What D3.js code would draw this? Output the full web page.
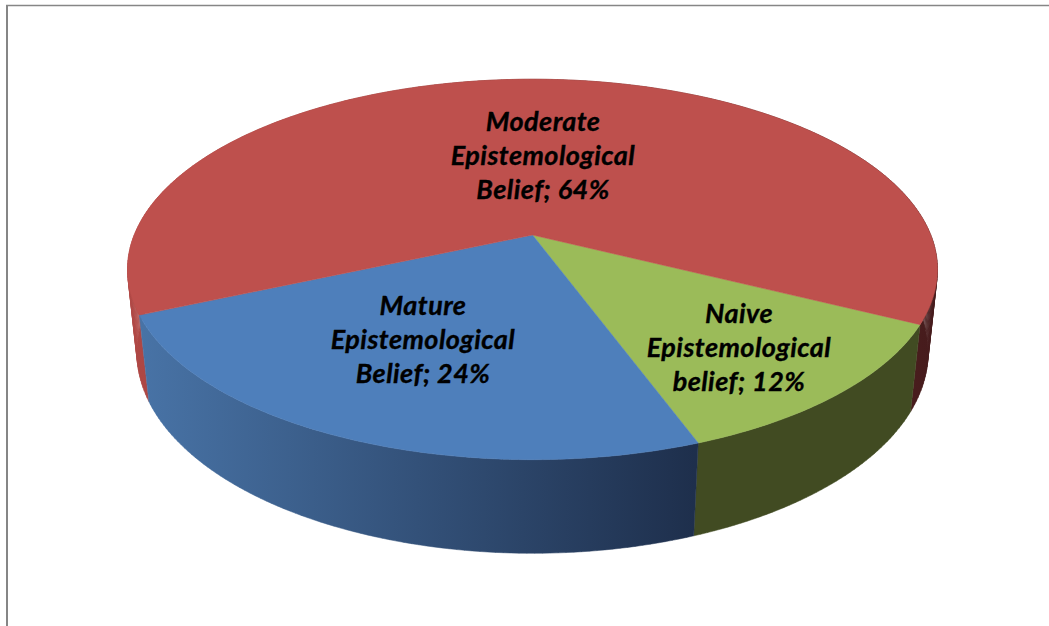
<!DOCTYPE html>
<html>
<head>
<meta charset="utf-8">
<script src="https://cdn.jsdelivr.net/npm/d3@7"></script>
<style>
  body { margin: 0; background: #fff; }
  svg { display: block; }
  .label { font-family: Lato, sans-serif; font-weight: 700; font-style: italic; font-size: 27px; letter-spacing: 0.45px; fill: #000; stroke: #000; stroke-width: 0.35px; text-anchor: middle; }
</style>
</head>
<body>
<div id="chart"></div>
<script>
// slices run clockwise, starting from the green/red edge
var categories = ["Naive Epistemological belief", "Mature Epistemological Belief", "Moderate Epistemological Belief"];
var values = [12, 24, 64];
var labelLines = [
  ["Naive", "Epistemological", "belief; 12%"],
  ["Mature", "Epistemological", "Belief; 24%"],
  ["Moderate", "Epistemological", "Belief; 64%"],
];

var width = 1049,
  height = 626;

// top and side colours for each slice, side goes left to right
var styles = [
  { top: "#9BBB59", side: ["#414B22", "#414B22"], label: [739, 323] },
  { top: "#4E7FBB", side: ["#4873A6", "#1E2F4C"], label: [423, 315] },
  { top: "#BE504D", side: ["#B04845", "#451B1C"], label: [543, 131] },
];

// perspective numbers worked out from the disk outline in the picture
var cx = 532.5,
  cy = 235,
  rx = 398.3,
  ry = 184,
  tilt = 0.181,
  drop = 84,
  sink = 0.023;

// angle -> screen point, level 0 is the top face and 1 the bottom face
function project(angle, level) {
  var X = Math.sin(angle),
    Y = -Math.cos(angle);
  var w = 1 - tilt * Y + sink * level;
  return [cx + (rx * X) / w, cy + (ry * Y + drop * level) / w];
}

var svg = d3.select("#chart").append("svg").attr("width", width).attr("height", height);

var x = d3.scaleLinear().domain([0, 1]).range([127, 938]);
var defs = svg.append("defs");
styles.forEach(function (s, i) {
  var grad = defs.append("linearGradient")
    .attr("id", "side" + i)
    .attr("gradientUnits", "userSpaceOnUse")
    .attr("x1", i == 1 ? 140 : x(0))
    .attr("x2", i == 1 ? 695 : x(1))
    .attr("y1", 0)
    .attr("y2", 0);
  grad.append("stop").attr("offset", 0).attr("stop-color", s.side[0]);
  grad.append("stop").attr("offset", 1).attr("stop-color", s.side[1]);
});

// frame, only top and left are visible
svg.append("path")
  .attr("d", "M7,626V5")
  .attr("fill", "none")
  .attr("stroke", "#868686")
  .attr("stroke-width", 2);
svg.append("path")
  .attr("d", "M6,5.5H1049")
  .attr("fill", "none")
  .attr("stroke", "#868686")
  .attr("stroke-width", 1.5);

var startAngle = (116.6 * Math.PI) / 180;
var arcs = d3.pie().sort(null).startAngle(startAngle).endAngle(startAngle + 2 * Math.PI)(values);

function sampleAngles(d) {
  var n = Math.ceil((d.endAngle - d.startAngle) * 60);
  return d3.range(n + 1).map(function (k) {
    return d.startAngle + ((d.endAngle - d.startAngle) * k) / n;
  });
}

// wall drawn as many small quads so the outline stays right where the edges cross
function wallPath(d) {
  var angles = sampleAngles(d);
  var out = "";
  for (var i = 0; i < angles.length - 1; i++) {
    var a = project(angles[i], 0),
      b = project(angles[i + 1], 0),
      c = project(angles[i + 1], 1),
      e = project(angles[i], 1);
    out += "M" + [a, b, c, e].join("L") + "Z";
  }
  return out;
}

var topLine = d3.line();
function topPath(d) {
  var pts = sampleAngles(d).map(function (a) {
    return project(a, 0);
  });
  pts.push([cx, cy]);
  return topLine(pts) + "Z";
}

// red wall is at the back so it goes first
svg.selectAll(".wall")
  .data([arcs[2], arcs[0], arcs[1]])
  .enter()
  .append("path")
  .classed("wall", true)
  .attr("fill", function (d) {
    return "url(#side" + d.index + ")";
  })
  .attr("stroke", function (d) {
    return "url(#side" + d.index + ")";
  })
  .attr("stroke-width", 0.5)
  .attr("d", wallPath);

svg.selectAll(".slice")
  .data(arcs)
  .enter()
  .append("path")
  .classed("slice", true)
  .attr("fill", function (d) {
    return styles[d.index].top;
  })
  .attr("stroke", function (d) {
    return styles[d.index].top;
  })
  .attr("stroke-width", 0.5)
  .attr("d", topPath);

labelLines.forEach(function (lines, i) {
  svg.append("text")
    .classed("label", true)
    .selectAll("tspan")
    .data(lines)
    .enter()
    .append("tspan")
    .attr("x", styles[i].label[0])
    .attr("y", function (d, k) {
      return styles[i].label[1] + k * 34;
    })
    .text(function (d) {
      return d;
    });
});
</script>
</body>
</html>
